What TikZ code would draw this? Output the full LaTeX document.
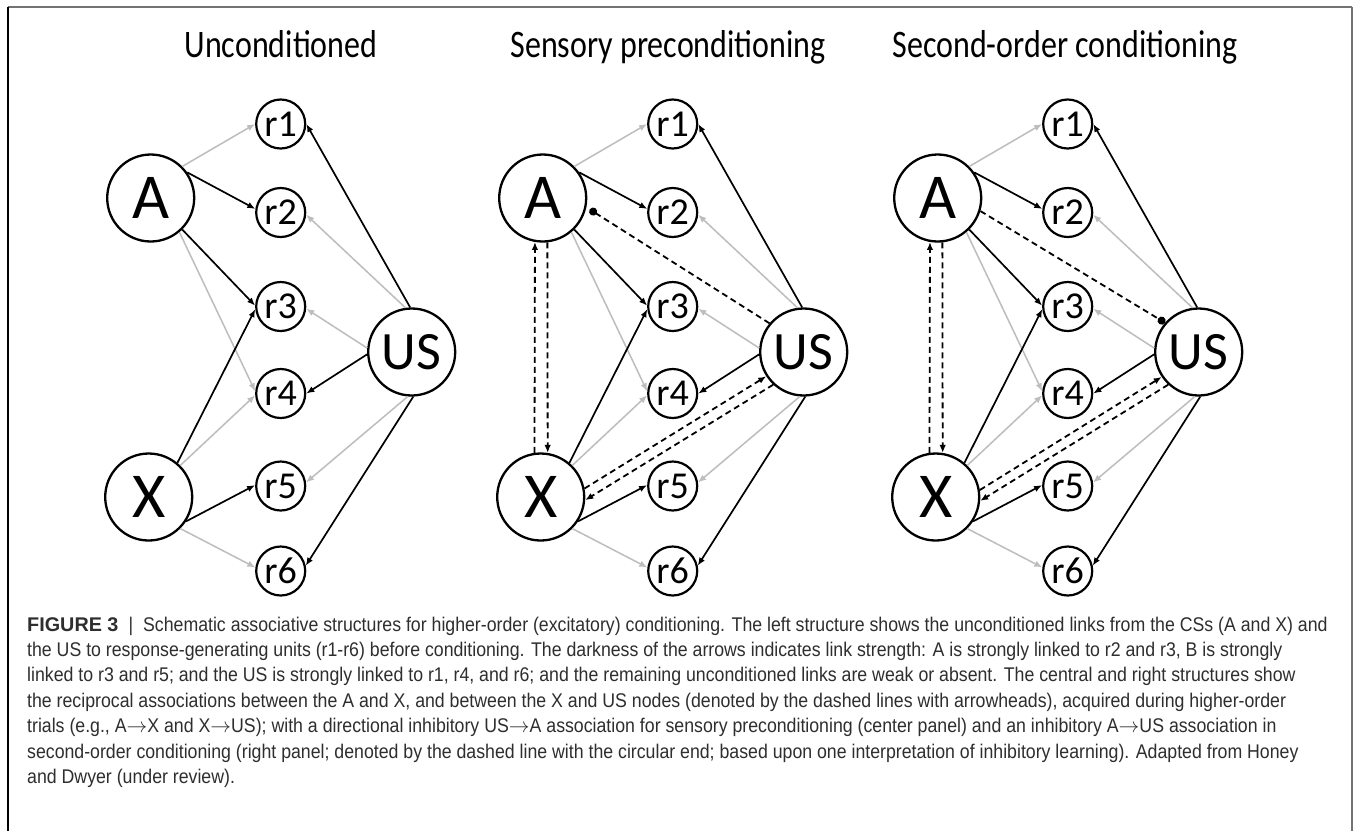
\documentclass[tikz,border=0pt]{standalone}
\usepackage{fontspec}
\setmainfont{Carlito}
\newfontfamily\capfont[FakeStretch=0.895]{Liberation Sans}
\newfontfamily\capbold[FakeStretch=1.0]{Liberation Sans}
\usetikzlibrary{arrows.meta,calc}
\definecolor{weak}{gray}{0.74}
\definecolor{captxt}{gray}{0.18}
\definecolor{framegray}{gray}{0.45}
\newcommand\capto{\(\rightarrow\)}
\tikzset{
 big/.style={circle,draw,line width=2.3pt,inner sep=0pt,minimum size=87pt,font=\fontsize{64}{64}\selectfont},
 usnode/.style={big,font=\fontsize{54}{54}\selectfont},
 resp/.style={circle,draw,line width=2.2pt,inner sep=0pt,minimum size=49pt,font=\fontsize{38}{38}\selectfont},
 strong/.style={line width=1.7pt,-{Latex[length=8pt,width=6.5pt]}},
 weaklink/.style={draw=weak,line width=1.5pt,-{Latex[length=8pt,width=6.5pt]}},
 assoc/.style={line width=1.8pt,dash pattern=on 6pt off 4pt,-{Latex[length=8pt,width=6.5pt]}},
 inhib/.style={line width=1.8pt,dash pattern=on 6pt off 4pt,-{Circle[length=8pt]}},
 paneltitle/.style={font=\fontsize{33}{33}\selectfont,inner sep=0pt,anchor=base},
 capline/.style={anchor=base west,inner sep=0pt,font=\capfont\fontsize{19.8}{19.8}\selectfont,text=captxt},
}
\newcommand\tscale[1]{\scalebox{0.97}[1.18]{#1}}
\newcommand\assocpanel[2]{%
\begin{scope}[shift={(#1,0)},name prefix=#2-]
 \node[big] (A) at (-130,198) {A};
 \node[big] (X) at (-132,497) {X};
 \node[usnode] (US) at (131,352) {US};
 \node[resp] (r1) at (0,124) {r1};
 \node[resp] (r2) at (0,212.5) {r2};
 \node[resp] (r3) at (0,306.5) {r3};
 \node[resp] (r4) at (0,393.5) {r4};
 \node[resp] (r5) at (0,486) {r5};
 \node[resp] (r6) at (0,571) {r6};
 \draw[weaklink] (A.45) -- (r1.180);
 \draw[strong] (A.35) -- (r2.172);
 \draw[weaklink] (A.-50) -- (r4.175);
 \draw[strong] (A.-45) -- (r3.178);
 \draw[weaklink] (X.45) -- (r4.184);
 \draw[strong] (X.50) -- (r3.186);
 \draw[weaklink] (X.-45) -- (r6.172);
 \draw[strong] (X.-33) -- (r5.178);
 \draw[weaklink] (US.98) -- (r2.-5);
 \draw[strong] (US.92) -- (r1.0);
 \draw[weaklink] (US.175) -- (r3.-5);
 \draw[strong] (US.183) -- (r4.0);
 \draw[weaklink] (US.-95) -- (r5.8);
 \draw[strong] (US.-88) -- (r6.12);
\end{scope}}
\begin{document}
\begin{tikzpicture}[x=1pt,y=-1pt]
\useasboundingbox (0,0) rectangle (1356,831);
\fill[white] (0,0) rectangle (1356,831);
% frame
\draw[framegray,line width=2pt] (8,7) -- (1352,7);
\draw[line width=1.5pt] (8,7) -- (8,831);
\draw[framegray,line width=1.5pt] (1352,7) -- (1352,831);
% titles
\node[paneltitle] (t1) at (281,57) {\tscale{Unconditioned}};
\node[paneltitle] (t2) at (668,57) {\tscale{Sensory preconditioning}};
\node[paneltitle] (t3) at (1065,57) {\tscale{Second-order conditioning}};
% panels
\assocpanel{280.7}{L}
\assocpanel{672.7}{C}
\assocpanel{1067.7}{R}
% centre panel associations
\draw[assoc] (C-X.98) -- (C-A.260);
\draw[assoc] (C-A.276) -- (C-X.81);
\draw[assoc] (C-X.11) -- (C-US.213);
\draw[assoc] (C-US.227) -- (C-X.-4);
\draw[inhib,shorten >=4pt] (C-US.140) -- (C-A.-12);
% right panel associations
\draw[assoc] (R-X.98) -- (R-A.260);
\draw[assoc] (R-A.276) -- (R-X.81);
\draw[assoc] (R-X.9) -- (R-US.214);
\draw[assoc] (R-US.227) -- (R-X.-5);
\draw[inhib] (R-A.-17) -- (R-US.139);
% caption
\node[capline] (c1) at (27,631) {{\capbold\bfseries FIGURE 3}\hspace{10pt}|\hspace{10pt}Schematic associative structures for higher-order (excitatory) conditioning. The left structure shows the unconditioned links from the CSs (A and X) and};
\node[capline] (c2) at (27,656.4) {the US to response-generating units (r1-r6) before conditioning. The darkness of the arrows indicates link strength: A is strongly linked to r2 and r3, B is strongly};
\node[capline] (c3) at (27,681.8) {linked to r3 and r5; and the US is strongly linked to r1, r4, and r6; and the remaining unconditioned links are weak or absent. The central and right structures show};
\node[capline] (c4) at (27,707.2) {the reciprocal associations between the A and X, and between the X and US nodes (denoted by the dashed lines with arrowheads), acquired during higher-order};
\node[capline] (c5) at (27,732.6) {trials (e.g., A\capto X and X\capto US); with a directional inhibitory US\capto A association for sensory preconditioning (center panel) and an inhibitory A\capto US association in};
\node[capline] (c6) at (27,758) {second-order conditioning (right panel; denoted by the dashed line with the circular end; based upon one interpretation of inhibitory learning). Adapted from Honey};
\node[capline] (c7) at (27,783.4) {and Dwyer (under review).};
\end{tikzpicture}
\end{document}
